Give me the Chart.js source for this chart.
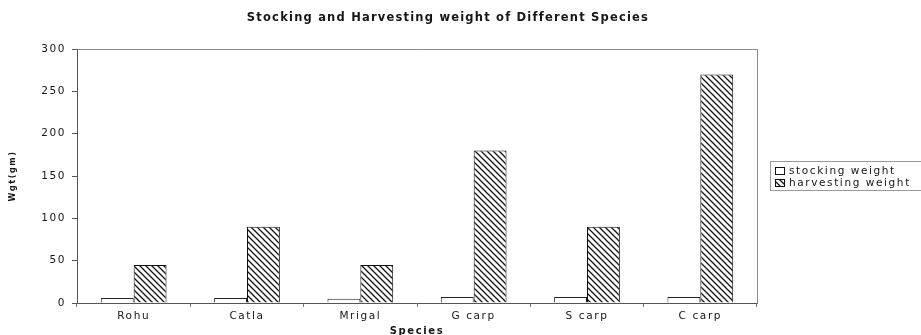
<!DOCTYPE html>
<html>
<head>
<meta charset="utf-8">
<script src="https://cdn.jsdelivr.net/npm/chart.js@4.4.1/dist/chart.umd.min.js"></script>
<style>
  html, body { margin: 0; padding: 0; background: #fff; }
  #wrap { width: 921px; height: 335px; }
</style>
</head>
<body>
<div id="wrap"><canvas id="c" width="921" height="335"></canvas></div>
<script>
// Weights per species (grams)
const categories = ['Rohu', 'Catla', 'Mrigal', 'G carp', 'S carp', 'C carp'];
const stockingWeight = [6, 6, 5, 7, 7, 7];
const harvestingWeight = [45, 90, 45, 180, 90, 270];
const yTicks = [0, 50, 100, 150, 200, 250, 300];
const seriesNames = ['stocking weight', 'harvesting weight'];
const chartTitle = 'Stocking and Harvesting weight of Different Species';
const yTitle = 'Wgt(gm)';
const xTitle = 'Species';

const FONT = '"DejaVu Sans", Verdana, Arial, sans-serif';
const INK = '#161616';
const SPACING = '1.6px';

// Diagonal hatch fill (top-left to bottom-right strokes)
function makeHatch() {
  const s = 6;
  const tile = document.createElement('canvas');
  tile.width = s; tile.height = s;
  const g = tile.getContext('2d');
  g.fillStyle = '#ffffff';
  g.fillRect(0, 0, s, s);
  g.strokeStyle = '#111';
  g.lineWidth = 1.25;
  g.beginPath();
  g.moveTo(-1, -1); g.lineTo(s + 1, s + 1);
  g.moveTo(-1, s - 1); g.lineTo(1, s + 1);
  g.moveTo(s - 1, -1); g.lineTo(s + 1, 1);
  g.stroke();
  return g.createPattern(tile, 'repeat');
}
const hatch = makeHatch();
const fills = ['#ffffff', hatch];

// Wide spacing for all canvas text
const spacing = {
  id: 'spacing',
  beforeUpdate(chart) { chart.ctx.letterSpacing = SPACING; },
  beforeDraw(chart) { chart.ctx.letterSpacing = SPACING; }
};

// Plot frame, title and legend box
const decorations = {
  id: 'decorations',
  afterDraw(chart) {
    const ctx = chart.ctx;
    const a = chart.chartArea;
    ctx.save();
    // top and right edges of the plot area
    ctx.strokeStyle = '#8a8a8a';
    ctx.lineWidth = 1;
    ctx.beginPath();
    ctx.moveTo(Math.round(a.left) + 0.5, Math.round(a.top) + 0.5);
    ctx.lineTo(Math.round(a.right) + 0.5, Math.round(a.top) + 0.5);
    ctx.lineTo(Math.round(a.right) + 0.5, Math.round(a.bottom) + 0.5);
    ctx.stroke();

    // title
    ctx.letterSpacing = '1.2px';
    ctx.fillStyle = INK;
    ctx.font = 'bold 11.5px ' + FONT;
    ctx.textAlign = 'center';
    ctx.textBaseline = 'middle';
    ctx.fillText(chartTitle, 448, 18);

    // legend
    ctx.letterSpacing = SPACING;
    const lx = a.right + 14;
    const ly = 161;
    ctx.strokeStyle = '#9a9a9a';
    ctx.strokeRect(lx - 0.5, ly + 0.5, 200, 29);
    ctx.font = '10.5px ' + FONT;
    ctx.textAlign = 'left';
    chart.data.datasets.forEach((ds, i) => {
      const cy = ly + 10 + i * 12;
      ctx.fillStyle = fills[i];
      ctx.fillRect(lx + 4, cy - 4, 10, 8);
      ctx.strokeStyle = '#111';
      ctx.strokeRect(lx + 4.5, cy - 3.5, 9, 7);
      ctx.fillStyle = INK;
      ctx.fillText(ds.label, lx + 18, cy + 0.5);
    });
    ctx.restore();
  }
};

new Chart(document.getElementById('c'), {
  type: 'bar',
  data: {
    labels: categories,
    datasets: [
      {
        label: seriesNames[0],
        data: stockingWeight,
        backgroundColor: fills[0],
        borderColor: '#222',
        borderWidth: 1,
        categoryPercentage: 0.58,
        barPercentage: 1.0
      },
      {
        label: seriesNames[1],
        data: harvestingWeight,
        backgroundColor: fills[1],
        borderColor: '#111',
        borderWidth: 1,
        categoryPercentage: 0.58,
        barPercentage: 1.0
      }
    ]
  },
  options: {
    responsive: false,
    animation: false,
    devicePixelRatio: 1,
    layout: { padding: { top: 49, right: 164, bottom: 0, left: 0 } },
    plugins: {
      legend: { display: false },
      title: { display: false },
      tooltip: { enabled: false }
    },
    scales: {
      x: {
        grid: {
          offset: true,
          drawOnChartArea: false,
          drawTicks: true,
          tickLength: 4,
          color: '#777'
        },
        border: { color: '#555', width: 1 },
        ticks: {
          color: INK,
          font: { family: FONT, size: 10.5 },
          padding: 3,
          maxRotation: 0
        },
        title: {
          display: true,
          text: xTitle,
          color: INK,
          font: { family: FONT, size: 10, weight: 'bold', lineHeight: 0.8 },
          padding: { top: 0, bottom: 0 }
        },
        afterFit(scale) { scale.height = 32; }
      },
      y: {
        min: 0,
        max: 300,
        afterBuildTicks(scale) { scale.ticks = yTicks.map(v => ({ value: v })); },
        grid: {
          drawOnChartArea: false,
          drawTicks: true,
          tickLength: 5,
          color: '#555'
        },
        border: { color: '#555', width: 1 },
        ticks: {
          color: INK,
          font: { family: FONT, size: 10.5 },
          padding: 6
        },
        title: {
          display: true,
          text: yTitle,
          color: INK,
          font: { family: FONT, size: 8, weight: 'bold', lineHeight: 1 },
          padding: { top: 9, bottom: 0 }
        },
        afterFit(scale) { scale.width = 77; }
      }
    }
  },
  plugins: [spacing, decorations]
});
</script>
</body>
</html>
